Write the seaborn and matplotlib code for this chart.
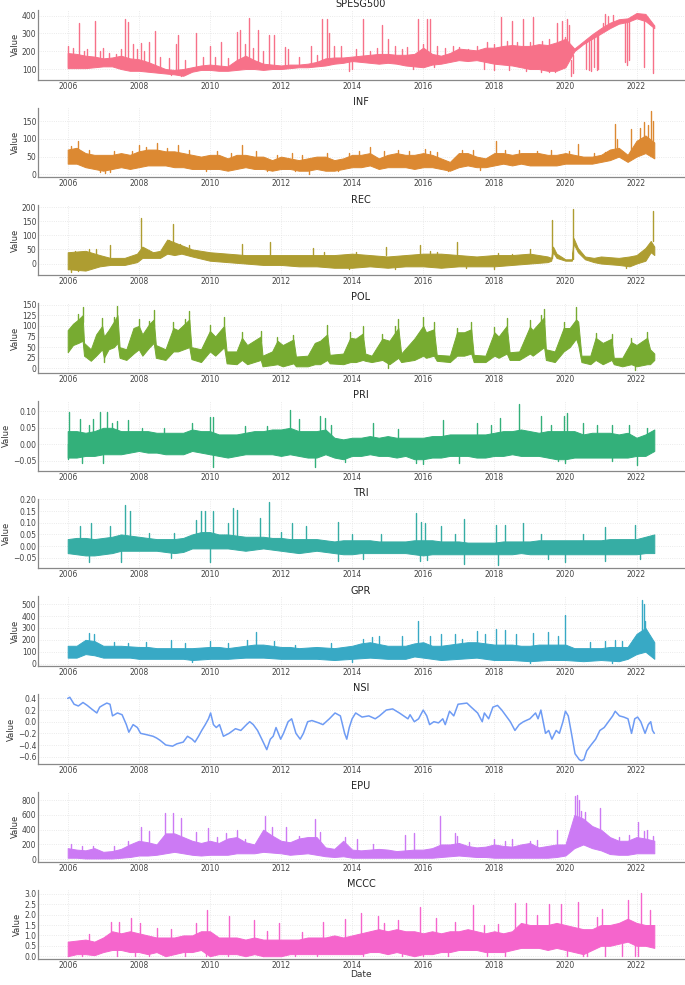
import numpy as np
import pandas as pd
import seaborn as sns
import matplotlib.pyplot as plt

# quarterly knots, 2006.00 .. 2022.50
qtr = np.arange(2006.0, 2022.51, 0.25)
year_ticks = [2006, 2008, 2010, 2012, 2014, 2016, 2018, 2020, 2022]

# ---- SPESG500
spx_lo = [105, 105, 105, 110, 115, 115, 100, 90, 90, 85, 80, 75, 70, 62, 85, 95,
          95, 90, 90, 95, 100, 100, 95, 100, 100, 105, 110, 110, 115, 120, 130, 135,
          145, 140, 135, 130, 135, 130, 120, 115, 110, 125, 130, 140, 150, 145, 150, 140,
          130, 125, 120, 110, 100, 100, 90, 90, 110, 200, 240, 270, 300, 330, 355, 365,
          385, 370, 330]
spx_hi = [190, 185, 175, 170, 160, 165, 175, 160, 155, 140, 120, 100, 95, 100, 110, 120,
          125, 120, 115, 150, 175, 150, 130, 125, 120, 125, 125, 130, 140, 160, 165, 165,
          170, 175, 180, 185, 185, 180, 180, 185, 220, 185, 175, 190, 215, 210, 205, 220,
          220, 230, 235, 230, 230, 240, 235, 250, 270, 215, 255, 295, 330, 360, 380, 385,
          415, 410, 345]
spx_spikes = [(2006.0, 110, 228), (2006.15, 150, 220), (2006.33, 150, 360), (2006.55, 150, 210),
              (2006.77, 150, 372), (2007.0, 150, 220), (2007.6, 150, 380), (2007.7, 150, 365),
              (2007.85, 140, 240), (2008.05, 130, 245), (2008.3, 130, 250), (2008.45, 120, 315),
              (2009.05, 90, 240), (2009.1, 90, 290), (2009.6, 100, 305), (2010.0, 110, 230),
              (2010.3, 110, 250), (2010.75, 120, 310), (2010.85, 120, 320), (2011.1, 140, 385),
              (2011.35, 130, 320), (2011.65, 120, 290), (2011.8, 120, 290), (2012.1, 115, 225),
              (2012.2, 115, 210), (2012.85, 120, 230), (2013.15, 140, 380), (2013.3, 150, 380),
              (2013.35, 150, 300), (2014.3, 160, 380), (2014.85, 160, 350), (2015.0, 160, 270),
              (2015.55, 150, 225), (2015.85, 160, 380), (2016.1, 180, 380), (2016.2, 180, 380),
              (2017.0, 190, 225), (2017.25, 190, 210), (2018.2, 200, 390), (2018.5, 200, 370),
              (2018.8, 200, 380), (2019.1, 200, 390), (2019.75, 220, 360), (2019.9, 230, 370),
              (2020.05, 240, 380), (2020.1, 240, 350), (2021.05, 320, 360), (2021.1, 320, 410),
              (2021.2, 340, 400), (2021.35, 350, 405),
              (2006.45, 150, 200), (2006.9, 150, 200), (2007.15, 150, 190), (2007.35, 150, 185),
              (2007.5, 150, 210), (2007.95, 140, 215), (2008.15, 130, 200), (2008.6, 110, 170),
              (2008.85, 90, 160), (2009.3, 90, 150), (2009.8, 110, 170), (2010.15, 110, 165),
              (2010.5, 110, 160), (2011.0, 130, 240), (2011.2, 130, 220), (2011.5, 120, 200),
              (2012.5, 115, 170), (2013.0, 120, 180), (2013.5, 150, 230), (2013.7, 150, 230),
              (2014.1, 160, 210), (2014.5, 160, 200), (2014.7, 160, 220), (2015.2, 160, 230),
              (2015.4, 160, 210), (2016.0, 180, 240), (2016.4, 170, 230), (2016.6, 170, 220),
              (2016.85, 180, 230), (2017.5, 190, 230), (2017.8, 200, 250), (2018.0, 200, 240),
              (2018.35, 210, 260), (2018.65, 210, 250), (2019.0, 210, 250), (2019.35, 220, 260),
              (2019.55, 220, 270), (2020.0, 240, 280),
              (2013.9, 140, 90), (2019.7, 100, 85), (2020.15, 150, 60), (2020.2, 180, 75),
              (2020.58, 250, 100), (2020.65, 260, 95), (2020.72, 270, 90), (2020.8, 280, 110),
              (2020.88, 285, 95), (2020.93, 290, 100), (2021.68, 370, 140), (2021.72, 370, 120),
              (2021.78, 375, 150), (2022.2, 400, 110), (2022.47, 340, 80),
              (2008.9, 80, 65), (2009.2, 80, 58), (2014.0, 150, 100), (2015.7, 130, 100),
              (2016.3, 140, 110), (2017.7, 150, 100), (2018.0, 140, 95), (2018.4, 130, 95),
              (2018.9, 120, 90), (2019.3, 110, 85), (2019.55, 100, 85)]

# ---- INF
inf_lo = [30, 30, 20, 15, 10, 15, 20, 15, 20, 25, 25, 25, 20, 20, 15, 15,
          15, 15, 10, 15, 20, 15, 15, 10, 15, 15, 10, 10, 15, 10, 10, 15,
          20, 20, 25, 15, 20, 20, 20, 15, 20, 20, 15, 10, 20, 25, 20, 20,
          25, 30, 25, 30, 25, 25, 25, 25, 30, 30, 30, 30, 35, 40, 50, 35,
          50, 60, 45]
inf_hi = [70, 75, 60, 55, 55, 55, 60, 55, 65, 70, 70, 65, 65, 60, 55, 50,
          55, 55, 45, 55, 55, 50, 50, 40, 50, 45, 40, 45, 50, 50, 40, 45,
          55, 55, 60, 45, 55, 60, 55, 55, 60, 55, 45, 35, 60, 60, 50, 45,
          60, 60, 55, 60, 60, 60, 55, 55, 60, 55, 50, 50, 55, 70, 75, 55,
          95, 110, 90]
inf_spikes = [(2006.1, 60, 80), (2006.3, 60, 94), (2007.05, 30, 3), (2008.0, 55, 83),
              (2008.5, 60, 88), (2009.1, 55, 82), (2010.9, 50, 84), (2012.8, 20, 0),
              (2014.5, 55, 78), (2016.05, 55, 72), (2018.05, 55, 95), (2020.35, 50, 87),
              (2021.4, 60, 143), (2021.45, 60, 100), (2021.85, 60, 129), (2022.1, 70, 132),
              (2022.2, 70, 148), (2022.33, 80, 140), (2022.42, 90, 180), (2022.47, 80, 150),
              (2006.6, 50, 70), (2007.3, 50, 65), (2007.8, 50, 65), (2008.2, 60, 78),
              (2008.8, 60, 75), (2009.4, 55, 70), (2010.2, 50, 65), (2010.6, 45, 60),
              (2011.3, 45, 65), (2011.9, 40, 55), (2012.3, 45, 60), (2012.6, 40, 55),
              (2013.3, 45, 60), (2013.9, 45, 60), (2014.2, 50, 65), (2014.9, 50, 65),
              (2015.3, 55, 68), (2015.6, 55, 65), (2016.2, 55, 65), (2016.4, 50, 62),
              (2017.1, 55, 70), (2017.4, 55, 70), (2018.3, 55, 70), (2018.7, 55, 70),
              (2019.2, 55, 65), (2019.6, 55, 68), (2020.1, 55, 65), (2020.8, 50, 60),
              (2021.1, 55, 62),
              (2006.9, 20, 5), (2007.2, 20, 5), (2009.9, 20, 10), (2011.6, 20, 10),
              (2012.4, 20, 8), (2013.6, 15, 8), (2016.7, 15, 8), (2017.6, 20, 12)]

# ---- REC (irregular knots)
rec_t = [2006.0, 2006.5, 2006.9, 2007.2, 2007.6, 2007.95, 2008.1, 2008.4, 2008.6, 2008.8,
         2009.0, 2009.2, 2009.5, 2010.0, 2010.5, 2011.0, 2011.5, 2012.0, 2012.5, 2013.0,
         2013.5, 2014.0, 2014.5, 2015.0, 2015.5, 2016.0, 2016.5, 2017.0, 2017.5, 2018.0,
         2018.5, 2019.0, 2019.5, 2019.6, 2019.65, 2019.75, 2020.0, 2020.18, 2020.23, 2020.35,
         2020.55, 2020.8, 2021.0, 2021.5, 2021.8, 2022.0, 2022.25, 2022.4, 2022.5]
rec_lo = [-20, -25, -10, -5, -5, 5, 20, 20, 20, 35, 30, 35, 25, 10, 5, 0, -5, -5, -10, -10,
          -15, -15, -10, -15, -10, -10, -15, -10, -10, -10, -5, 0, 5, 10, 40, 20, 10, 10, 70, 40,
          15, 5, 0, -5, -10, 0, 10, 40, 30]
rec_hi = [40, 45, 30, 20, 20, 35, 60, 40, 45, 85, 75, 65, 50, 40, 35, 30, 30, 30, 30, 30,
          30, 35, 30, 25, 30, 35, 35, 30, 25, 30, 30, 35, 25, 20, 60, 35, 15, 15, 90, 55,
          25, 20, 25, 20, 25, 30, 55, 80, 60]
rec_spikes = [(2007.2, 10, 65), (2008.05, 30, 160), (2008.85, 60, 85), (2008.95, 60, 140),
              (2010.9, 30, 70), (2011.7, 30, 78), (2012.9, 30, 55), (2014.95, 30, 57),
              (2015.9, 30, 65), (2016.95, 30, 77), (2019.0, 30, 50), (2019.62, 20, 155),
              (2020.21, 15, 195), (2022.45, 80, 185),
              (2006.2, 20, 45), (2006.6, 20, 50), (2006.8, 20, 50), (2009.15, 50, 70),
              (2009.4, 40, 65), (2013.2, 20, 40), (2014.1, 20, 40), (2016.2, 20, 45),
              (2016.4, 20, 40), (2018.1, 20, 38), (2018.5, 20, 35),
              (2006.1, -10, -30), (2006.3, -10, -28), (2013.9, -10, -20), (2015.2, -5, -18),
              (2017.2, -5, -17), (2018.0, -5, -20), (2021.7, -5, -17)]

# ---- POL (irregular knots)
pol_t = [2006.0, 2006.15, 2006.3, 2006.42, 2006.46, 2006.65, 2006.8, 2006.97, 2007.02, 2007.15,
         2007.3, 2007.4, 2007.46, 2007.65, 2007.85, 2008.0, 2008.1, 2008.3, 2008.42, 2008.48,
         2008.75, 2008.97, 2009.1, 2009.42, 2009.48, 2009.75, 2010.0, 2010.15, 2010.4, 2010.47,
         2010.75, 2010.9, 2011.05, 2011.43, 2011.48, 2011.75, 2011.9, 2012.05, 2012.35, 2012.42,
         2012.75, 2012.95, 2013.1, 2013.3, 2013.37, 2013.75, 2013.95, 2014.1, 2014.3, 2014.37,
         2014.55, 2014.85, 2015.05, 2015.3, 2015.38, 2015.75, 2016.0, 2016.08, 2016.3, 2016.38,
         2016.75, 2016.95, 2017.15, 2017.35, 2017.42, 2017.75, 2018.0, 2018.12, 2018.35, 2018.43,
         2018.7, 2019.0, 2019.08, 2019.4, 2019.45, 2019.7, 2019.95, 2020.12, 2020.3, 2020.36,
         2020.45, 2020.7, 2020.85, 2021.05, 2021.3, 2021.36, 2021.6, 2021.85, 2022.0, 2022.3,
         2022.38, 2022.5]
pol_lo = [38, 55, 60, 65, 30, 18, 30, 45, 25, 45, 50, 60, 25, 20, 35, 45, 30, 50, 60, 25,
          20, 40, 40, 50, 22, 15, 40, 30, 50, 12, 10, 20, 10, 20, 5, 8, 10, 5, 12, 5,
          5, 10, 10, 20, 12, 10, 15, 15, 20, 18, 15, 20, 10, 25, 15, 20, 30, 25, 30, 18,
          15, 30, 30, 35, 15, 15, 30, 25, 35, 20, 20, 35, 30, 50, 20, 15, 40, 50, 70, 55,
          15, 10, 20, 10, 20, 10, 5, 10, 5, 10, 10, 20]
pol_hi = [90, 105, 115, 125, 60, 45, 80, 100, 75, 90, 110, 125, 50, 45, 95, 100, 80, 105, 115, 55,
          45, 95, 90, 115, 50, 45, 88, 75, 100, 40, 40, 72, 55, 75, 30, 40, 65, 55, 68, 28,
          30, 60, 65, 80, 32, 35, 72, 70, 82, 35, 30, 70, 65, 95, 35, 70, 100, 85, 92, 32,
          30, 85, 85, 92, 32, 30, 85, 75, 100, 38, 40, 98, 90, 120, 45, 40, 95, 95, 115, 110,
          30, 30, 72, 60, 70, 25, 25, 62, 55, 72, 45, 35]
pol_spikes = [(2006.42, 110, 145), (2006.97, 90, 118), (2007.4, 110, 146), (2008.0, 90, 115),
              (2008.42, 100, 138), (2008.97, 85, 110), (2009.42, 100, 135), (2010.0, 78, 101),
              (2010.4, 90, 120), (2010.9, 62, 85), (2011.43, 65, 88), (2011.9, 55, 75),
              (2012.35, 58, 78), (2013.3, 70, 103), (2013.95, 62, 85), (2014.3, 72, 100),
              (2014.85, 60, 80), (2015.3, 85, 115), (2016.0, 90, 121), (2016.3, 82, 108),
              (2016.95, 75, 96), (2017.35, 82, 109), (2018.0, 75, 98), (2018.35, 90, 119),
              (2019.0, 88, 114), (2019.4, 110, 140), (2019.95, 85, 108), (2020.3, 105, 145),
              (2020.85, 62, 83), (2021.3, 60, 81), (2021.85, 52, 71), (2022.3, 62, 86),
              (2006.3, 100, 128), (2007.3, 95, 120), (2008.3, 90, 112), (2009.3, 95, 115),
              (2015.2, 80, 100), (2019.3, 100, 125),
              (2007.02, 40, 14), (2015.02, 20, 0), (2021.95, 10, -3)]

# ---- PRI
pri_lo = [-0.04, -0.04, -0.035, -0.035, -0.03, -0.03, -0.03, -0.025, -0.02, -0.025, -0.025, -0.03,
          -0.03, -0.03, -0.02, -0.025, -0.03, -0.035, -0.04, -0.035, -0.03, -0.03, -0.03, -0.03,
          -0.035, -0.03, -0.035, -0.04, -0.04, -0.03, -0.04, -0.045, -0.035, -0.035, -0.03, -0.035,
          -0.035, -0.04, -0.035, -0.045, -0.045, -0.04, -0.04, -0.035, -0.035, -0.035, -0.04, -0.04,
          -0.035, -0.035, -0.03, -0.035, -0.035, -0.035, -0.04, -0.045, -0.045, -0.04, -0.04, -0.04,
          -0.04, -0.04, -0.04, -0.04, -0.035, -0.035, -0.02]
pri_hi = [0.04, 0.04, 0.035, 0.04, 0.05, 0.05, 0.04, 0.04, 0.04, 0.04, 0.035, 0.035,
          0.035, 0.035, 0.045, 0.04, 0.04, 0.03, 0.03, 0.03, 0.035, 0.04, 0.04, 0.045,
          0.045, 0.05, 0.04, 0.04, 0.04, 0.045, 0.02, 0.015, 0.02, 0.02, 0.025, 0.02,
          0.025, 0.02, 0.02, 0.02, 0.02, 0.025, 0.025, 0.03, 0.03, 0.03, 0.03, 0.03,
          0.035, 0.04, 0.04, 0.045, 0.04, 0.035, 0.04, 0.04, 0.04, 0.04, 0.03, 0.035,
          0.035, 0.035, 0.03, 0.035, 0.02, 0.03, 0.045]
pri_spikes = [(2006.05, 0, 0.098), (2006.35, 0, 0.077), (2006.7, 0, 0.077), (2006.9, 0, 0.098),
              (2007.1, 0, 0.098), (2007.4, 0, 0.07), (2007.7, 0, 0.075), (2009.5, 0, 0.065),
              (2010.0, 0, 0.083), (2010.1, 0, 0.083), (2012.25, 0, 0.105), (2012.5, 0, 0.078),
              (2013.1, 0, 0.085), (2013.25, 0, 0.08), (2014.6, 0, 0.065), (2016.55, 0, 0.075),
              (2017.5, 0, 0.065), (2018.15, 0, 0.08), (2018.7, 0, 0.122), (2019.3, 0, 0.085),
              (2019.95, 0, 0.085), (2020.05, 0, 0.095), (2020.5, 0, 0.065), (2021.3, 0, 0.06),
              (2021.8, 0, 0.06),
              (2006.6, 0, 0.06), (2007.25, 0, 0.065), (2008.1, 0, 0.05), (2008.7, 0, 0.05),
              (2011.0, 0, 0.055), (2011.6, 0, 0.055), (2013.4, 0, 0.06), (2015.3, 0, 0.045),
              (2017.9, 0, 0.06), (2019.6, 0, 0.06), (2020.9, 0, 0.06), (2022.3, 0, 0.05),
              (2006.0, 0, -0.045), (2006.4, 0, -0.055), (2007.0, 0, -0.055), (2010.1, 0, -0.068),
              (2012.95, 0, -0.07), (2016.0, 0, -0.06), (2017.0, 0, -0.055), (2020.0, 0, -0.055),
              (2022.0, 0, -0.063), (2013.8, 0, -0.052), (2015.8, 0, -0.055), (2019.8, 0, -0.05),
              (2021.3, 0, -0.05)]

# ---- TRI
tri_lo = [-0.03, -0.035, -0.04, -0.04, -0.035, -0.03, -0.02, -0.02, -0.02, -0.02, -0.02, -0.025,
          -0.03, -0.025, -0.01, -0.01, -0.01, -0.01, -0.01, -0.015, -0.02, -0.015, -0.01, -0.015,
          -0.02, -0.025, -0.03, -0.025, -0.02, -0.025, -0.03, -0.035, -0.035, -0.03, -0.03, -0.03,
          -0.03, -0.03, -0.03, -0.035, -0.04, -0.035, -0.035, -0.035, -0.035, -0.035, -0.035, -0.035,
          -0.035, -0.035, -0.035, -0.03, -0.035, -0.035, -0.035, -0.035, -0.035, -0.035, -0.035, -0.035,
          -0.035, -0.035, -0.035, -0.035, -0.035, -0.03, -0.03]
tri_hi = [0.03, 0.035, 0.035, 0.03, 0.035, 0.04, 0.05, 0.045, 0.04, 0.035, 0.03, 0.03,
          0.03, 0.035, 0.05, 0.06, 0.06, 0.05, 0.05, 0.045, 0.04, 0.04, 0.04, 0.035,
          0.035, 0.03, 0.03, 0.03, 0.03, 0.025, 0.02, 0.025, 0.025, 0.025, 0.025, 0.02,
          0.02, 0.02, 0.02, 0.025, 0.025, 0.025, 0.02, 0.02, 0.02, 0.015, 0.015, 0.015,
          0.015, 0.02, 0.02, 0.02, 0.02, 0.025, 0.025, 0.025, 0.025, 0.025, 0.025, 0.025,
          0.025, 0.03, 0.03, 0.03, 0.03, 0.04, 0.05]
tri_spikes = [(2006.35, 0, 0.085), (2006.65, 0, 0.1), (2007.2, 0, 0.085), (2007.6, 0, 0.175),
              (2007.75, 0, 0.15), (2009.6, 0, 0.11), (2009.75, 0, 0.15), (2009.85, 0, 0.15),
              (2010.1, 0, 0.15), (2010.5, 0, 0.1), (2010.65, 0, 0.165), (2010.75, 0, 0.155),
              (2011.4, 0, 0.12), (2011.65, 0, 0.19), (2012.3, 0, 0.1), (2012.7, 0, 0.085),
              (2013.6, 0, 0.105), (2015.8, 0, 0.14), (2015.95, 0, 0.105), (2016.05, 0, 0.1),
              (2016.5, 0, 0.085), (2017.15, 0, 0.115), (2018.05, 0, 0.09), (2018.3, 0, 0.09),
              (2018.8, 0, 0.1), (2021.1, 0, 0.08), (2021.95, 0, 0.09),
              (2008.3, 0, 0.055), (2009.0, 0, 0.055), (2012.0, 0, 0.06), (2014.0, 0, 0.05),
              (2014.8, 0, 0.05), (2016.9, 0, 0.05), (2019.3, 0, 0.05), (2020.5, 0, 0.05),
              (2006.6, 0, -0.07), (2007.5, 0, -0.07), (2010.0, 0, -0.07), (2013.6, 0, -0.065),
              (2015.9, 0, -0.065), (2017.15, 0, -0.078), (2018.1, 0, -0.082), (2020.0, 0, -0.07),
              (2021.1, 0, -0.065), (2008.9, 0, -0.05), (2014.3, 0, -0.055), (2016.1, 0, -0.06),
              (2019.5, 0, -0.055), (2022.1, 0, -0.055)]

# ---- GPR
gpr_lo = [50, 50, 80, 70, 50, 50, 50, 50, 40, 40, 40, 40, 40, 40, 30, 35,
          40, 40, 40, 45, 50, 50, 50, 45, 40, 40, 40, 40, 40, 35, 30, 35,
          40, 45, 50, 45, 40, 40, 40, 60, 50, 40, 30, 35, 40, 45, 50, 40,
          30, 30, 30, 25, 20, 25, 30, 30, 30, 25, 20, 25, 30, 25, 20, 40,
          80, 100, 40]
gpr_hi = [150, 150, 200, 190, 150, 150, 150, 145, 140, 140, 130, 130, 130, 130, 130, 135,
          140, 140, 130, 140, 150, 160, 160, 150, 140, 140, 130, 135, 140, 135, 130, 140,
          150, 170, 180, 165, 150, 150, 150, 170, 180, 150, 150, 160, 170, 180, 180, 170,
          160, 160, 160, 150, 150, 160, 160, 160, 160, 130, 130, 130, 130, 140, 140, 140,
          250, 300, 180]
gpr_spikes = [(2006.6, 150, 255), (2006.75, 150, 250), (2008.9, 120, 200), (2011.05, 130, 200),
              (2011.3, 140, 270), (2014.75, 160, 230), (2015.4, 150, 230), (2015.85, 160, 355),
              (2016.5, 140, 250), (2017.5, 170, 275), (2017.75, 160, 250), (2018.05, 150, 290),
              (2018.3, 150, 280), (2019.1, 150, 260), (2019.5, 150, 265), (2020.0, 150, 410),
              (2022.15, 250, 540), (2022.2, 250, 500), (2022.25, 250, 360),
              (2007.3, 120, 180), (2007.7, 120, 175), (2008.2, 120, 185), (2009.3, 110, 175),
              (2010.0, 120, 190), (2010.5, 110, 175), (2011.8, 120, 190), (2012.4, 110, 160),
              (2013.4, 110, 175), (2014.3, 130, 210), (2014.55, 140, 220), (2016.2, 130, 230),
              (2016.9, 140, 250), (2017.1, 140, 210), (2018.6, 130, 250), (2019.8, 130, 230),
              (2020.7, 110, 180), (2021.1, 110, 190), (2021.4, 110, 200), (2021.6, 110, 190),
              (2021.9, 120, 200),
              (2009.5, 30, 10), (2014.0, 40, 10), (2019.0, 20, 5), (2021.3, 20, 5)]

# ---- NSI (smooth line)
nsi_t = [2006.0, 2006.06, 2006.18, 2006.3, 2006.43, 2006.55, 2006.67, 2006.82, 2006.9, 2006.98,
         2007.1, 2007.19, 2007.26, 2007.4, 2007.53, 2007.65, 2007.72, 2007.84, 2007.96, 2008.05,
         2008.2, 2008.4, 2008.5, 2008.6, 2008.76, 2008.95, 2009.07, 2009.25, 2009.37, 2009.5,
         2009.58, 2009.68, 2009.77, 2009.87, 2009.96, 2010.02, 2010.1, 2010.18, 2010.27, 2010.38,
         2010.54, 2010.72, 2010.87, 2011.03, 2011.12, 2011.22, 2011.34, 2011.46, 2011.6, 2011.7,
         2011.78, 2011.86, 2011.99, 2012.07, 2012.2, 2012.3, 2012.42, 2012.54, 2012.63, 2012.75,
         2012.87, 2013.06, 2013.18, 2013.36, 2013.52, 2013.67, 2013.79, 2013.85, 2013.92, 2014.0,
         2014.1, 2014.28, 2014.47, 2014.65, 2014.77, 2014.96, 2015.14, 2015.33, 2015.45, 2015.57,
         2015.63, 2015.75, 2015.87, 2016.0, 2016.1, 2016.18, 2016.3, 2016.43, 2016.55, 2016.62,
         2016.74, 2016.86, 2016.92, 2016.98, 2017.23, 2017.35, 2017.53, 2017.66, 2017.72, 2017.84,
         2017.96, 2018.09, 2018.21, 2018.33, 2018.45, 2018.58, 2018.7, 2018.82, 2019.0, 2019.16,
         2019.23, 2019.31, 2019.44, 2019.53, 2019.62, 2019.74, 2019.83, 2019.93, 2020.0, 2020.08,
         2020.17, 2020.27, 2020.39, 2020.45, 2020.52, 2020.6, 2020.72, 2020.85, 2020.97, 2021.09,
         2021.21, 2021.33, 2021.4, 2021.52, 2021.64, 2021.76, 2021.86, 2021.95, 2022.03, 2022.12,
         2022.24, 2022.33, 2022.4, 2022.45, 2022.5]
nsi_v = [0.40, 0.42, 0.30, 0.27, 0.33, 0.28, 0.22, 0.15, 0.25, 0.28,
         0.32, 0.30, 0.10, 0.15, 0.12, -0.05, -0.18, -0.05, -0.10, -0.20,
         -0.22, -0.25, -0.28, -0.32, -0.40, -0.42, -0.38, -0.35, -0.25, -0.30,
         -0.35, -0.25, -0.15, -0.05, 0.05, 0.15, -0.05, -0.10, -0.05, -0.25,
         -0.20, -0.12, -0.15, -0.05, 0.00, -0.05, -0.15, -0.30, -0.48, -0.30,
         -0.25, -0.10, -0.30, -0.20, 0.00, 0.05, -0.20, -0.30, -0.20, 0.00,
         0.02, -0.02, -0.05, 0.05, 0.15, 0.10, -0.20, -0.30, -0.10, 0.05,
         0.15, 0.08, 0.10, 0.05, 0.10, 0.20, 0.22, 0.15, 0.10, 0.05,
         0.12, 0.00, 0.05, 0.20, 0.10, -0.05, 0.00, -0.02, 0.05, -0.05,
         0.18, 0.10, 0.20, 0.30, 0.32, 0.25, 0.15, 0.00, 0.15, 0.05,
         0.25, 0.28, 0.20, 0.10, 0.00, -0.15, -0.05, 0.00, 0.05, 0.15,
         0.05, 0.20, -0.20, -0.15, -0.30, -0.15, -0.20, 0.00, 0.18, 0.10,
         -0.20, -0.55, -0.65, -0.67, -0.65, -0.50, -0.40, -0.30, -0.15, -0.10,
         0.00, 0.10, 0.18, 0.10, 0.08, 0.05, -0.20, 0.05, 0.08, 0.00,
         -0.20, -0.05, 0.00, -0.15, -0.20]

# ---- EPU
epu_lo = [20, 20, 10, 10, 10, 10, 20, 30, 50, 50, 60, 80, 100, 80, 60, 50,
          60, 60, 60, 80, 80, 80, 100, 90, 80, 60, 70, 80, 60, 40, 30, 40,
          20, 20, 20, 20, 20, 20, 20, 20, 20, 20, 30, 40, 50, 40, 30, 30,
          20, 20, 20, 20, 20, 20, 20, 30, 50, 150, 200, 150, 120, 70, 60, 60,
          80, 80, 80]
epu_hi = [150, 130, 120, 150, 100, 110, 140, 200, 250, 230, 200, 350, 350, 300, 250, 220,
          250, 220, 280, 300, 230, 200, 400, 320, 250, 230, 280, 300, 300, 160, 140, 250,
          130, 120, 130, 140, 130, 110, 120, 130, 130, 150, 200, 200, 220, 180, 160, 170,
          200, 180, 170, 200, 220, 160, 180, 200, 200, 600, 550, 450, 400, 300, 250, 250,
          300, 280, 250]
epu_spikes = [(2008.05, 150, 430), (2008.3, 150, 380), (2008.75, 200, 630), (2008.95, 200, 630),
              (2009.2, 200, 555), (2009.6, 150, 370), (2009.95, 150, 420), (2010.75, 200, 400),
              (2011.55, 250, 580), (2011.75, 200, 430), (2012.15, 200, 430), (2012.95, 250, 550),
              (2013.8, 150, 300), (2014.15, 100, 280), (2015.5, 100, 330), (2015.75, 100, 350),
              (2016.48, 100, 590), (2016.9, 150, 350), (2018.5, 100, 270), (2019.2, 100, 260),
              (2019.75, 150, 390), (2020.28, 400, 860), (2020.33, 400, 870), (2020.38, 400, 800),
              (2020.45, 300, 650), (2020.55, 300, 640), (2020.98, 250, 700), (2022.05, 200, 510),
              (2022.3, 200, 400),
              (2006.1, 100, 200), (2006.4, 80, 180), (2006.7, 80, 185), (2007.3, 80, 180),
              (2007.7, 100, 240), (2010.2, 150, 300), (2010.45, 150, 350), (2011.0, 150, 270),
              (2012.5, 150, 320), (2013.1, 150, 370), (2014.6, 80, 200), (2016.95, 150, 320),
              (2017.3, 100, 230), (2018.0, 100, 280), (2018.3, 100, 240), (2019.0, 100, 250),
              (2021.5, 150, 300), (2021.8, 150, 330), (2022.2, 150, 380), (2022.45, 150, 310)]

# ---- MCCC
mccc_lo = [0.0, 0.1, 0.1, 0.05, 0.2, 0.3, 0.3, 0.2, 0.2, 0.1, 0.2, 0.0, 0.1, 0.2, 0.2, 0.3,
           0.0, 0.1, 0.1, 0.1, 0.0, 0.1, 0.0, 0.0, 0.0, 0.1, 0.1, 0.1, 0.1, 0.1, 0.1, 0.1,
           0.1, 0.1, 0.2, 0.2, 0.1, 0.2, 0.1, 0.0, 0.1, 0.1, 0.2, 0.2, 0.3, 0.3, 0.3, 0.2,
           0.2, 0.2, 0.3, 0.4, 0.4, 0.4, 0.3, 0.4, 0.3, 0.2, 0.1, 0.3, 0.5, 0.5, 0.6, 0.7,
           0.5, 0.5, 0.4]
mccc_hi = [0.7, 0.75, 0.8, 0.7, 0.9, 1.2, 1.1, 1.2, 1.1, 1.0, 0.9, 0.9, 0.9, 1.0, 1.0, 1.2,
           1.2, 0.9, 0.9, 0.9, 0.8, 0.9, 0.8, 0.8, 0.8, 0.8, 0.8, 0.9, 0.9, 0.9, 1.0, 0.9,
           1.0, 1.1, 1.2, 1.3, 1.2, 1.3, 1.2, 1.2, 1.1, 1.2, 1.1, 1.2, 1.2, 1.3, 1.2, 1.1,
           1.2, 1.1, 1.2, 1.6, 1.5, 1.5, 1.5, 1.6, 1.5, 1.4, 1.3, 1.3, 1.5, 1.5, 1.6, 1.8,
           1.6, 1.5, 1.5]
mccc_spikes = [(2007.23, 0.8, 1.65), (2007.44, 0.8, 1.65), (2007.78, 0.8, 1.85), (2008.02, 0.8, 1.6),
               (2009.93, 0.8, 2.22), (2010.54, 0.7, 1.95), (2011.25, 0.7, 1.75), (2011.93, 0.7, 1.62),
               (2013.18, 0.7, 1.65), (2013.8, 0.7, 1.8), (2014.26, 0.8, 2.1), (2014.72, 0.9, 1.95),
               (2015.29, 0.9, 1.75), (2015.91, 0.9, 2.38), (2016.37, 0.9, 1.85), (2017.41, 0.9, 2.45),
               (2018.58, 1.0, 2.55), (2018.88, 1.0, 2.55), (2019.53, 1.0, 2.5), (2019.87, 1.0, 2.5),
               (2020.36, 1.0, 2.6), (2021.03, 1.0, 2.25), (2021.77, 1.2, 2.7), (2022.13, 1.2, 3.05),
               (2022.38, 1.2, 2.2),
               (2006.6, 0.5, 1.05), (2008.5, 0.7, 1.35), (2008.9, 0.7, 1.3), (2009.6, 0.8, 1.6),
               (2011.6, 0.6, 1.2), (2012.6, 0.6, 1.15), (2014.9, 0.9, 1.6), (2016.9, 0.9, 1.65),
               (2017.7, 0.9, 1.5), (2018.1, 0.9, 1.55), (2019.2, 1.0, 2.0), (2020.9, 1.0, 1.9),
               (2006.4, 0.5, 0.0), (2007.4, 0.5, 0.0), (2007.9, 0.5, 0.0), (2008.3, 0.5, 0.0),
               (2009.3, 0.5, 0.0), (2009.9, 0.5, 0.0), (2010.5, 0.5, 0.0), (2011.5, 0.5, 0.0),
               (2012.4, 0.5, 0.0), (2013.0, 0.5, 0.0), (2014.3, 0.5, 0.0), (2015.4, 0.5, 0.0),
               (2016.0, 0.5, 0.0), (2016.7, 0.5, 0.0), (2017.8, 0.5, 0.0), (2018.3, 0.5, 0.0),
               (2020.05, 0.5, 0.0), (2020.5, 0.5, 0.0), (2020.6, 0.5, 0.0), (2021.1, 0.6, 0.0),
               (2021.6, 0.6, 0.0), (2021.95, 0.6, 0.0), (2022.05, 0.6, 0.0)]

titles = ['SPESG500', 'INF', 'REC', 'POL', 'PRI', 'TRI', 'GPR', 'NSI', 'EPU', 'MCCC']
yticks = [[100, 200, 300, 400], [0, 50, 100, 150], [0, 50, 100, 150, 200],
          [0, 25, 50, 75, 100, 125, 150], [-0.05, 0.0, 0.05, 0.10],
          [-0.05, 0.0, 0.05, 0.10, 0.15, 0.20], [0, 100, 200, 300, 400, 500],
          [-0.6, -0.4, -0.2, 0.0, 0.2, 0.4], [0, 200, 400, 600, 800],
          [0.0, 0.5, 1.0, 1.5, 2.0, 2.5, 3.0]]


def spike_frame(spikes):
    rows = []
    for i, (t, base, tip) in enumerate(spikes):
        rows.append((i, t, base))
        rows.append((i, t, tip))
    return pd.DataFrame(rows, columns=['id', 'Date', 'Value'])


def draw_band(ax, t, lo, hi, spikes, color):
    ax.fill_between(t, lo, hi, color=color, lw=0.7)
    sns.lineplot(data=spike_frame(spikes), x='Date', y='Value', units='id',
                 estimator=None, color=color, lw=1.0, ax=ax)


sns.set_theme(style="whitegrid")
plt.rcParams['font.family'] = ['DejaVu Sans']
colors = sns.color_palette("husl", 10)

fig, axes = plt.subplots(10, 1, figsize=(6.85, 9.85), dpi=100)
fig.subplots_adjust(left=0.056, right=0.998, top=0.99, bottom=0.026, hspace=0.40)

bands = {
    'SPESG500': (qtr, spx_lo, spx_hi, spx_spikes),
    'INF': (qtr, inf_lo, inf_hi, inf_spikes),
    'REC': (rec_t, rec_lo, rec_hi, rec_spikes),
    'POL': (pol_t, pol_lo, pol_hi, pol_spikes),
    'PRI': (qtr, pri_lo, pri_hi, pri_spikes),
    'TRI': (qtr, tri_lo, tri_hi, tri_spikes),
    'GPR': (qtr, gpr_lo, gpr_hi, gpr_spikes),
    'EPU': (qtr, epu_lo, epu_hi, epu_spikes),
    'MCCC': (qtr, mccc_lo, mccc_hi, mccc_spikes),
}

for i, (ax, name) in enumerate(zip(axes, titles)):
    c = colors[i]
    if name == 'NSI':
        sns.lineplot(x=nsi_t, y=nsi_v, color=c, lw=1.1, ax=ax)
    else:
        t, lo, hi, sp = bands[name]
        draw_band(ax, t, lo, hi, sp, c)

    ax.set_title(name, fontsize=7, pad=2, color='#222222')
    ax.set_ylabel('Value', fontsize=6, labelpad=1.5, color='#333333')
    ax.set_xlabel('Date' if i == 9 else '', fontsize=6.5, labelpad=0, color='#333333')
    ax.set_xticks(year_ticks)
    ax.set_xticklabels([str(y) for y in year_ticks])
    ax.set_yticks(yticks[i])
    ax.tick_params(axis='both', labelsize=5.5, pad=1.5, length=0, colors='#444444')
    ax.grid(True, color='#e4e4e4', lw=0.6, ls=':')
    for s in ['top', 'right']:
        ax.spines[s].set_visible(False)
    for s in ['left', 'bottom']:
        ax.spines[s].set_color('#888888')
        ax.spines[s].set_linewidth(0.9)

fig.savefig('out.png', dpi=100)
